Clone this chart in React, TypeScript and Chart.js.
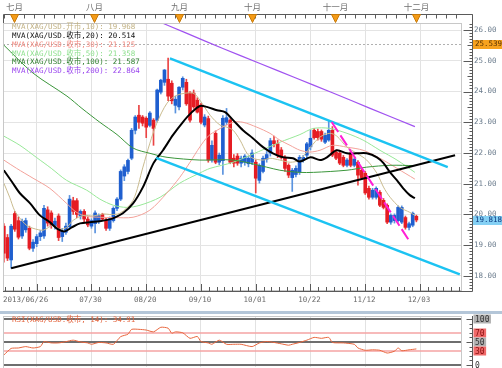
import React, { useEffect, useRef } from "react";
import { Chart, registerables } from "chart.js";
Chart.register(...registerables);

// ---------- data ----------
const OPEN = [
  19.62, 19.25, 18.52, 20.03, 19.8, 19.3, 19.5, 19.55, 18.9, 19.05,
  19.28, 19.3, 20.15, 20.05, 19.62, 19.95, 19.28, 19.42, 19.6, 20.45,
  20.45, 19.95, 20.1, 19.85, 19.62, 19.7, 19.78, 20.0, 19.82, 19.55,
  19.8, 20.2, 20.5, 21.25, 21.4, 21.83, 22.74, 23.23, 23.17, 23.13,
  22.9, 23.07, 23.07, 23.98, 24.3, 24.4, 24.27, 23.55, 23.5, 24.14,
  24.3, 23.95, 23.95, 23.72, 23.56, 22.91, 23.12, 21.77, 22.64, 21.7,
  21.75, 23.0, 23.07, 21.83, 21.9, 21.67, 21.7, 21.65, 21.7, 21.7,
  21.11, 21.4, 21.8, 22.0, 22.4, 22.3, 22.1, 21.86, 21.6, 21.2,
  21.3, 21.38, 21.77, 21.93, 22.2, 22.74, 22.7, 22.7, 22.35, 22.42,
  22.74, 22.03, 22.0, 21.86, 21.6, 22.0, 21.6, 21.7, 21.44, 21.34,
  20.85, 20.56, 20.56, 20.72, 20.46, 20.3, 19.75, 19.8, 19.8, 19.75,
  19.9, 19.58, 19.65, 19.94,
];
const HIGH = [
  19.7, 19.35, 19.68, 20.1, 19.92, 19.85, 19.88, 19.62, 19.18, 19.35,
  19.48, 20.3, 20.25, 20.12, 19.88, 20.02, 19.55, 19.72, 20.62, 20.56,
  20.52, 20.15, 20.16, 19.92, 19.86, 20.12, 20.02, 20.04, 19.88, 19.92,
  20.25, 20.55, 21.45, 21.62, 21.8, 22.8, 23.22, 23.55, 23.22, 23.18,
  23.35, 23.12, 24.08, 24.4, 24.72, 25.09, 24.35, 23.85, 24.16, 24.48,
  24.4, 24.0, 24.05, 23.8, 23.62, 23.25, 23.2, 22.4, 22.72, 22.0,
  23.22, 23.45, 23.12, 21.95, 21.98, 21.9, 21.95, 21.9, 22.1, 21.78,
  21.65, 21.9, 22.05, 22.48, 22.55, 22.42, 22.18, 21.92, 21.65, 21.5,
  21.58, 21.92, 21.92, 22.35, 22.74, 22.8, 22.78, 22.75, 22.65, 23.05,
  22.86, 22.1, 22.05, 21.92, 21.82, 22.05, 21.85, 21.75, 21.5, 21.4,
  20.92, 20.85, 20.9, 20.78, 20.52, 20.35, 20.02, 20.02, 20.28, 20.28,
  19.95, 19.75, 20.08, 19.98,
];
const LOW = [
  18.45, 18.5, 18.25, 19.45, 19.2, 19.22, 19.42, 18.85, 18.8, 18.95,
  19.15, 19.22, 19.62, 19.55, 19.52, 19.15, 19.12, 19.35, 19.55, 20.0,
  19.9, 19.85, 19.75, 19.6, 19.55, 19.4, 19.7, 19.8, 19.48, 19.48,
  19.75, 20.12, 20.45, 21.1, 21.32, 21.78, 22.62, 22.8, 22.88, 22.5,
  22.85, 22.25, 23.0, 23.92, 24.2, 23.7, 23.6, 23.3, 23.4, 24.05,
  23.55, 23.0, 23.45, 23.3, 22.95, 22.85, 21.7, 21.7, 21.65, 21.62,
  21.3, 22.92, 21.65, 21.55, 21.6, 21.55, 21.6, 21.55, 21.62, 20.7,
  21.02, 21.35, 21.7, 21.9, 22.2, 21.85, 21.8, 21.4, 21.2, 20.75,
  21.22, 21.3, 21.7, 21.85, 22.1, 22.45, 22.42, 22.38, 22.3, 22.38,
  21.88, 21.78, 21.62, 21.55, 21.55, 21.55, 21.55, 20.95, 21.15, 20.65,
  20.5, 20.5, 20.5, 20.25, 20.18, 19.7, 19.68, 19.72, 19.75, 19.7,
  19.52, 19.5, 19.6, 19.76,
];
const CLOSE = [
  18.74, 18.58, 19.62, 19.52, 19.26, 19.78, 19.8, 18.9, 19.1, 19.28,
  19.4, 20.2, 19.72, 19.65, 19.78, 19.25, 19.45, 19.62, 20.5, 20.1,
  20.0, 20.1, 19.85, 19.66, 19.8, 20.05, 19.96, 19.85, 19.55, 19.86,
  20.2, 20.5, 21.4, 21.55, 21.76, 22.74, 23.17, 23.0, 22.97, 22.84,
  23.3, 22.8, 24.05, 24.37, 24.7, 23.85, 23.7, 23.75, 24.14, 24.43,
  23.6, 23.07, 23.5, 23.33, 23.0, 23.17, 21.77, 22.25, 21.7, 21.93,
  23.13, 23.15, 21.7, 21.67, 21.67, 21.83, 21.9, 21.83, 22.0, 21.18,
  21.6, 21.83, 21.95, 22.4, 22.3, 21.93, 21.86, 21.5, 21.28, 21.44,
  21.5, 21.86, 21.86, 22.3, 22.48, 22.5, 22.5, 22.45, 22.58, 22.74,
  21.93, 21.83, 21.67, 21.6, 21.77, 21.6, 21.8, 21.28, 21.2, 20.7,
  20.56, 20.79, 20.85, 20.3, 20.23, 19.75, 19.97, 19.97, 20.23, 20.23,
  19.58, 19.7, 20.04, 19.82,
];

// moving averages: [bar index, value]
const MA10 = [
  [0, 21.02], [1.6, 20.56], [2.9, 20.14], [4.4, 19.88], [6.2, 19.65], [8, 19.55], [10.8, 19.49],
  [13.5, 19.65], [15.4, 19.52], [17.2, 19.58], [19, 19.81], [21.8, 19.97], [24.5, 19.95],
  [27.2, 20.02], [29, 20.0], [31.8, 20.04], [35.4, 20.46], [38.1, 21.54], [40, 22.32],
  [41.9, 22.97], [44.7, 23.62], [47.4, 23.88], [51.8, 23.95], [53.7, 23.72], [56.5, 23.23],
  [59.2, 22.91], [61.1, 22.84], [62.8, 22.74], [64.7, 22.42], [66.6, 21.99], [68.2, 21.83],
  [71, 21.77], [72.9, 21.83], [75.6, 21.77], [78.4, 21.7], [81, 21.77], [84, 22.19],
  [86.6, 22.52], [89.3, 22.64], [91.2, 22.55], [94, 22.19], [96.7, 21.99], [99.4, 21.77],
  [102.2, 21.34], [104, 20.89], [105.8, 20.56], [108.5, 20.23], [111.2, 20.07], [112.6, 19.97],
];
const MA20 = [
  [0, 21.44], [2.3, 21.05], [4.4, 20.69], [7.2, 20.36], [9.9, 19.97], [12.6, 19.75], [14.8, 19.52],
  [16.7, 19.45], [18.6, 19.58], [20.9, 19.71], [23.6, 19.75], [26.3, 19.78], [29, 19.84],
  [30, 19.88], [32.6, 20.04], [35.4, 20.36], [38.1, 20.89], [41, 21.67], [43.6, 22.09],
  [46.3, 22.58], [49, 23.0], [51.5, 23.33], [53.7, 23.53], [55.6, 23.5], [58.4, 23.39],
  [60.6, 23.33], [62.8, 23.07], [65.5, 22.74], [68.2, 22.48], [71, 22.19], [73.7, 21.99],
  [76.5, 21.86], [79.2, 21.83], [81.1, 21.72], [84, 21.86], [86.6, 21.77], [88.5, 21.86],
  [91.2, 22.09], [94, 21.99], [96.7, 21.99], [99.4, 21.99], [102.2, 21.86], [104, 21.67],
  [105.8, 21.37], [107.7, 21.11], [109.4, 20.85], [111.2, 20.63], [112.6, 20.53],
];
const MA30 = [
  [0, 21.77], [3.5, 21.5], [8, 21.18], [12.6, 20.85], [17.2, 20.36], [19.9, 20.07], [22.7, 19.94],
  [26.3, 19.91], [30, 19.9], [35.4, 19.91], [40, 20.14], [44.6, 20.69], [48.2, 21.21],
  [51, 21.7], [53.7, 22.2], [56, 22.55], [58.4, 22.74], [62.8, 23.0], [65.5, 23.0],
  [69.3, 22.84], [72.9, 22.64], [75.6, 22.42], [78.4, 22.25], [81.1, 22.09], [83.8, 22.03],
  [86.6, 22.09], [90, 22.25], [94, 22.19], [98.4, 22.09], [103, 21.83], [107.7, 21.5], [112.6, 21.15],
];
const MA50 = [
  [0, 22.55], [4.4, 22.25], [9, 21.85], [13, 21.5], [17.2, 21.11], [22.7, 20.79], [26.3, 20.5],
  [30, 20.3], [33.7, 20.23], [37.3, 20.3], [42.8, 20.56], [48.2, 21.02], [53.7, 21.35],
  [56.5, 21.5], [62.8, 21.7], [72, 22.16], [75.6, 22.35], [81.1, 22.6], [84.8, 22.8],
  [89.3, 22.8], [94, 22.64], [98.4, 22.42], [103, 22.09], [107.7, 21.77], [112.6, 21.37],
];
const MA100 = [
  [0, 25.51], [8, 24.6], [17.3, 23.85], [21.4, 23.45], [26.3, 23.0], [31, 22.6], [35.4, 22.16],
  [40, 21.99], [44.7, 21.86], [53.7, 21.77], [62.8, 21.77], [72, 21.54], [75.6, 21.44],
  [81, 21.37], [84.8, 21.37], [94, 21.44], [99.4, 21.54], [105.8, 21.6], [112.6, 21.59],
];
const MA200 = [
  [40, 26.4], [50, 25.9], [60, 25.4], [70, 24.92], [80, 24.44], [90, 23.96], [100, 23.47], [112.6, 22.86],
];
const MA_NAMES = [
  "MVA(XAG/USD.开市,10)", "MVA(XAG/USD.收市,20)", "MVA(XAG/USD.收市,30)",
  "MVA(XAG/USD.收市,50)", "MVA(XAG/USD.收市,100)", "MVA(XAG/USD.收市,200)",
];
const MA_LAST = [19.968, 20.514, 21.125, 21.358, 21.587, 22.864];

// drawn studies: [bar index, price]
const CHANNEL_UP = [[45.5, 25.08], [121.6, 21.54]];
const CHANNEL_DN = [[41.7, 21.84], [124.9, 18.05]];
const SUPPORT = [[2, 18.25], [123.6, 21.93]];
const DOWN_DASH = [[89.8, 23.01], [111.3, 19.1]];

const HIGH_MARK = 25.539;
const LAST_PRICE = 19.818;

const RSI = [
  [0, 21.7], [2, 36], [4, 37], [6, 40], [8, 37], [10, 40], [11, 50.7], [13, 48], [15, 48],
  [17, 50.7], [19, 54], [21, 50], [23, 48], [24, 45], [26, 49], [28, 48], [30, 45], [32, 61.6],
  [34, 67], [35, 77.5], [37, 77.5], [39, 76], [41, 72], [43, 82], [45, 80], [46, 69], [47, 72],
  [49, 70], [51, 58], [53, 62], [54, 51], [56, 48], [57, 45], [59, 54], [61, 45], [63, 45],
  [65, 45], [68, 40], [70, 48], [72, 51], [74, 49], [76, 46], [78, 43], [79, 45], [81, 49],
  [83, 54], [85, 60], [87, 58], [89, 60], [90, 49], [93, 48], [96, 45], [97, 37], [99, 32],
  [101, 33], [103, 32], [105, 26], [107, 30], [108, 37], [109, 31], [111, 33], [113, 34.91],
];
const RSI_LAST = 34.91;
const RSI_LEVELS = [100, 70, 50, 30, 0];

const PRICE_TICKS = [18, 19, 20, 21, 22, 23, 24, 25, 26];
const GRID_IDX = [9, 24, 39, 54, 69, 84, 99, 114];
const DATE_IDX = [0, 24, 39, 54, 69, 84, 99, 114];
const DATE_TEXT = ["2013/06/26", "07/30", "08/20", "09/10", "10/01", "10/22", "11/12", "12/03"];
const MONTH_IDX = [2.8, 24.7, 48, 68, 90.7, 112.9];
const MONTH_TEXT = ["七月", "八月", "九月", "十月", "十一月", "十二月"];

// ---------- view ----------
const X_MIN = -0.23;
const X_MAX = 125.5;
const Y_MIN = 17.51;
const Y_MAX = 26.23;
const MONO = "'DejaVu Sans Mono', 'Noto Sans CJK SC', monospace";
const CJK = "'Noto Sans CJK SC', sans-serif";
const MA_COLORS = ["#c9bb8e", "#000000", "#f3a29a", "#98e898", "#3b963b", "#a052f0"];
const LEGEND_COLORS = ["#c2b284", "#111111", "#f08a80", "#8fe08f", "#2f7f2f", "#9a46ee"];

const pts = (a: number[][]) => a.map(([x, y]) => ({ x, y }));

function line(ctx: CanvasRenderingContext2D, x1: number, y1: number, x2: number, y2: number) {
  ctx.beginPath();
  ctx.moveTo(x1, y1);
  ctx.lineTo(x2, y2);
  ctx.stroke();
}

const xAxisGrid = {
  type: "linear" as const,
  min: X_MIN,
  max: X_MAX,
  offset: false,
  afterBuildTicks: (s: any) => {
    s.ticks = GRID_IDX.map((v) => ({ value: v }));
  },
  grid: { color: "#e2e2e2", drawTicks: false, offset: false },
  border: { display: false },
  ticks: { display: false },
  afterFit: (s: any) => {
    s.height = 0;
  },
};

const mainDecor = {
  id: "mainDecor",
  beforeDatasetsDraw(chart: any) {
    const { ctx, chartArea: a, scales } = chart;
    const y = scales.y;
    ctx.save();
    ctx.strokeStyle = "#b0b0b0";
    ctx.lineWidth = 1;
    ctx.setLineDash([2, 2]);
    const py = Math.round(y.getPixelForValue(HIGH_MARK)) + 0.5;
    line(ctx, a.left, py, a.right, py);
    ctx.restore();
  },
  afterDraw(chart: any) {
    const { ctx, chartArea: a, scales } = chart;
    const x = scales.x;
    const y = scales.y;
    ctx.save();
    ctx.lineWidth = 1;
    ctx.strokeStyle = "#c8c8c8";
    ctx.strokeRect(a.left + 0.5, a.top + 0.5, a.right - a.left - 1, a.bottom - a.top - 1);

    const axX = a.right + 10.5;
    const rulerY = a.top - 8.5;
    ctx.strokeStyle = "#5a5a5a";
    line(ctx, axX, rulerY, axX, a.bottom + 0.5);
    line(ctx, a.left, a.bottom + 0.5, axX, a.bottom + 0.5);

    // price axis minor ticks
    for (let k = Math.ceil(Y_MIN * 10); k <= Math.floor(Y_MAX * 10); k++) {
      const py = Math.round(y.getPixelForValue(k / 10)) + 0.5;
      const len = k % 10 === 0 ? 9 : k % 5 === 0 ? 5 : 3;
      line(ctx, axX - len, py, axX, py);
    }
    // time axis minor ticks
    const step = 15 / 7;
    for (let n = -5; n < 60; n++) {
      const v = GRID_IDX[0] + n * step;
      if (v < X_MIN || v > X_MAX) continue;
      const px = Math.round(x.getPixelForValue(v)) + 0.5;
      const major = n % 7 === 0;
      line(ctx, px, a.bottom - (major ? 7 : 4), px, a.bottom);
    }
    // top ruler
    ctx.beginPath();
    ctx.moveTo(a.left + 0.5, a.top);
    ctx.lineTo(a.left + 0.5, rulerY);
    ctx.lineTo(axX, rulerY);
    ctx.lineTo(axX, a.top);
    ctx.stroke();
    for (let n = -2; n < 60; n++) {
      const v = MONTH_IDX[0] + n * 2.75;
      if (v < X_MIN || v > X_MAX) continue;
      const px = Math.round(x.getPixelForValue(v)) + 0.5;
      line(ctx, px, rulerY, px, rulerY + 4);
    }
    MONTH_IDX.forEach((m, i) => {
      const px = Math.round(x.getPixelForValue(m)) + 0.5;
      ctx.fillStyle = "#f59b16";
      ctx.strokeStyle = "#c77a08";
      ctx.beginPath();
      ctx.moveTo(px - 4, rulerY);
      ctx.lineTo(px + 4, rulerY);
      ctx.lineTo(px, rulerY + 8);
      ctx.closePath();
      ctx.fill();
      ctx.stroke();
      ctx.fillStyle = "#707070";
      ctx.font = `8.5px ${CJK}`;
      ctx.textAlign = "center";
      ctx.textBaseline = "middle";
      ctx.fillText(MONTH_TEXT[i], px, 7);
    });

    // date labels
    ctx.font = `7.5px ${MONO}`;
    ctx.fillStyle = "#6a6a6a";
    ctx.textBaseline = "middle";
    DATE_IDX.forEach((v, i) => {
      if (i === 0) {
        ctx.textAlign = "left";
        ctx.fillText(DATE_TEXT[i], a.left, a.bottom + 9.5);
      } else {
        ctx.textAlign = "center";
        ctx.fillText(DATE_TEXT[i], x.getPixelForValue(v) - 1, a.bottom + 9.5);
      }
    });

    // legend
    ctx.textAlign = "left";
    MA_NAMES.forEach((n, i) => {
      ctx.fillStyle = LEGEND_COLORS[i];
      ctx.fillText(`${n}: ${MA_LAST[i].toFixed(3)}`, a.left + 9, a.top + 4.5 + i * 8.7);
    });

    // price flags
    const flag = (v: number, bg: string, fg: string) => {
      const py = y.getPixelForValue(v);
      ctx.fillStyle = bg;
      ctx.fillRect(axX + 0.5, Math.round(py) - 4, 502 - axX, 9);
      ctx.fillStyle = fg;
      ctx.textAlign = "left";
      ctx.fillText(v.toFixed(3), axX + 2.5, Math.round(py) + 0.5);
    };
    flag(HIGH_MARK, "#f7a21e", "#5a3300");
    flag(LAST_PRICE, "#84d0f4", "#0c3a80");
    ctx.restore();
  },
};

const rsiDecor = {
  id: "rsiDecor",
  beforeDatasetsDraw(chart: any) {
    const { ctx, chartArea: a, scales } = chart;
    const y = scales.y;
    ctx.save();
    RSI_LEVELS.forEach((lv) => {
      const major = lv % 50 === 0;
      ctx.strokeStyle = major ? "#6e6e6e" : "#f5a3a3";
      ctx.lineWidth = major ? 2 : 1.5;
      const py = Math.round(y.getPixelForValue(lv));
      line(ctx, a.left, py, a.right, py);
    });
    ctx.restore();
  },
  afterDraw(chart: any) {
    const { ctx, chartArea: a, scales } = chart;
    const y = scales.y;
    ctx.save();
    ctx.fillStyle = "#b4c6d8";
    ctx.fillRect(0, 1, 502, 3);
    ctx.lineWidth = 1;
    ctx.strokeStyle = "#c8c8c8";
    ctx.strokeRect(a.left + 0.5, a.top + 0.5, a.right - a.left - 1, a.bottom - a.top + 2);
    const axX = a.right + 10.5;
    ctx.strokeStyle = "#5a5a5a";
    line(ctx, axX, a.top, axX, a.bottom + 2);
    for (let v = 0; v <= 100; v += 10) {
      const py = Math.round(y.getPixelForValue(v)) + 0.5;
      const len = v % 50 === 0 ? 6 : 3;
      line(ctx, axX - len, py, axX, py);
    }
    ctx.font = `8px ${MONO}`;
    ctx.textBaseline = "middle";
    ctx.textAlign = "left";
    RSI_LEVELS.forEach((lv) => {
      const py = Math.round(y.getPixelForValue(lv));
      const label = String(lv);
      const w = ctx.measureText(label).width + 3;
      if (lv !== 0) {
        ctx.fillStyle = lv % 50 === 0 ? "#b2b2b2" : "#f06a6a";
        ctx.fillRect(axX + 1, py - 4.5, w, 9);
      }
      ctx.fillStyle = lv % 50 === 0 ? "#333333" : "#8a0f0f";
      ctx.fillText(label, axX + 2.5, py + 0.5);
    });
    ctx.font = `7.5px ${MONO}`;
    ctx.fillStyle = "#e4663f";
    ctx.fillText(`RSI(XAG/USD.收市, 14): ${RSI_LAST.toFixed(2)}`, a.left + 9, a.top + 4.5);
    ctx.restore();
  },
};

export default function App() {
  const mainRef = useRef<HTMLCanvasElement>(null);
  const rsiRef = useRef<HTMLCanvasElement>(null);

  useEffect(() => {
    const idx = OPEN.map((_, i) => i);
    const up = idx.map((i) => CLOSE[i] >= OPEN[i]);
    const bodyColors = up.map((u) => (u ? "#1f5fcf" : "#e51c23"));
    const wickColors = up.map((u) => (u ? "#5a93df" : "#ea4444"));

    const lineDs = (data: number[][], color: string, width: number, order: number, extra: any = {}) => ({
      type: "line" as const,
      data: pts(data),
      borderColor: color,
      backgroundColor: color,
      borderWidth: width,
      pointRadius: 0,
      tension: 0.3,
      fill: false,
      order,
      ...extra,
    });

    const main = new Chart(mainRef.current as HTMLCanvasElement, {
      type: "bar",
      data: {
        datasets: [
          {
            type: "bar",
            data: idx.map((i) => ({ x: i, y: [LOW[i], HIGH[i]] })) as any,
            backgroundColor: wickColors,
            barThickness: 1,
            grouped: false,
            order: 20,
          },
          {
            type: "bar",
            data: idx.map((i) => ({ x: i, y: [OPEN[i], CLOSE[i]] })) as any,
            backgroundColor: bodyColors,
            barThickness: 3,
            minBarLength: 1,
            grouped: false,
            order: 19,
          },
          lineDs(MA10, MA_COLORS[0], 1, 8),
          lineDs(MA30, MA_COLORS[2], 1, 8),
          lineDs(MA50, MA_COLORS[3], 1, 8),
          lineDs(MA100, MA_COLORS[4], 1, 7),
          lineDs(MA200, MA_COLORS[5], 1.2, 7),
          lineDs(MA20, MA_COLORS[1], 2, 5),
          lineDs(CHANNEL_UP, "#1cc3f2", 2.5, 2, { tension: 0 }),
          lineDs(CHANNEL_DN, "#1cc3f2", 2.5, 2, { tension: 0 }),
          lineDs(SUPPORT, "#000000", 2, 2, { tension: 0 }),
          lineDs(DOWN_DASH, "#ff1fd6", 2, 1, { tension: 0, borderDash: [12, 4] }),
        ] as any,
      },
      options: {
        responsive: false,
        animation: false,
        devicePixelRatio: 1,
        events: [],
        layout: { padding: { left: 3, right: 0, top: 23, bottom: 19 } },
        plugins: { legend: { display: false }, tooltip: { enabled: false } },
        scales: {
          x: xAxisGrid as any,
          y: {
            type: "linear",
            position: "right",
            min: Y_MIN,
            max: Y_MAX,
            afterBuildTicks: (s: any) => {
              s.ticks = PRICE_TICKS.map((v) => ({ value: v }));
            },
            grid: { color: "#e4e4e4", drawTicks: false },
            border: { display: false },
            ticks: {
              font: { family: MONO, size: 7.5 },
              color: "#6b7c8d",
              padding: 12,
              callback: (v: any) => Number(v).toFixed(2),
            },
            afterFit: (s: any) => {
              s.width = 40;
            },
          } as any,
        },
      },
      plugins: [mainDecor],
    });

    const rsi = new Chart(rsiRef.current as HTMLCanvasElement, {
      type: "line",
      data: {
        datasets: [
          {
            data: pts(RSI) as any,
            borderColor: "#e8663d",
            borderWidth: 1,
            pointRadius: 0,
            tension: 0.2,
            fill: false,
          },
        ],
      },
      options: {
        responsive: false,
        animation: false,
        devicePixelRatio: 1,
        events: [],
        layout: { padding: { left: 3, right: 40, top: 6, bottom: 1 } },
        plugins: { legend: { display: false }, tooltip: { enabled: false } },
        scales: {
          x: xAxisGrid as any,
          y: { type: "linear", display: false, min: -4.35, max: 106.5 },
        },
      },
      plugins: [rsiDecor],
    });

    return () => {
      main.destroy();
      rsi.destroy();
    };
  }, []);

  return (
    <div style={{ position: "fixed", left: 0, top: 0, width: 502, height: 368, background: "#ffffff" }}>
      <canvas
        ref={mainRef}
        width={502}
        height={310}
        style={{ position: "absolute", left: 0, top: 0, width: 502, height: 310 }}
      />
      <canvas
        ref={rsiRef}
        width={502}
        height={58}
        style={{ position: "absolute", left: 0, top: 310, width: 502, height: 58 }}
      />
    </div>
  );
}
